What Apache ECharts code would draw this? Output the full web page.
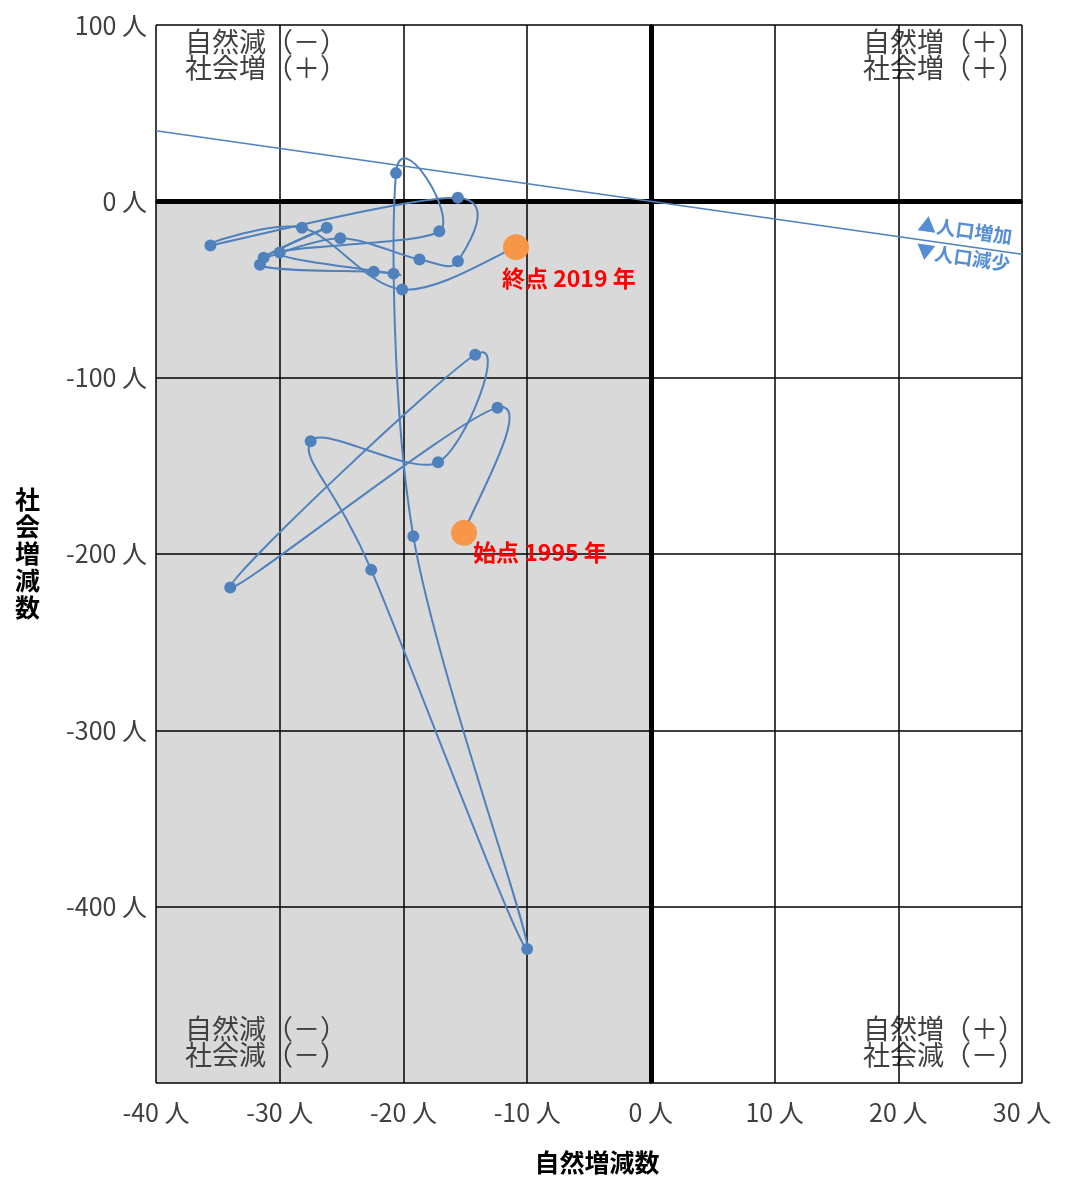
<!DOCTYPE html>
<html>
<head>
<meta charset="utf-8">
<title>自然増減数と社会増減数</title>
<script src="https://cdn.jsdelivr.net/npm/echarts@6/dist/echarts.min.js"></script>
<style>
    html, body { margin: 0; padding: 0; background: #fff; }
    #chart { width: 1068px; height: 1180px; }
</style>
</head>
<body>
<div id="chart"></div>
<script>
    // 年
    const years = [
        1995, 1996, 1997, 1998, 1999, 2000, 2001, 2002, 2003, 2004,
        2005, 2006, 2007, 2008, 2009, 2010, 2011, 2012, 2013, 2014,
        2015, 2016, 2017, 2018, 2019
    ];
    // 自然増減数 (人)
    const naturalChange = [
        -15.1, -12.4, -34.0, -14.2, -17.2, -27.5, -22.6, -10.0, -19.2, -20.6,
        -17.1, -30.0, -20.8, -22.4, -31.6, -26.2, -31.3, -25.1, -18.7, -15.6,
        -15.6, -35.6, -28.2, -20.1, -10.9
    ];
    // 社会増減数 (人)
    const socialChange = [
        -188, -117, -219, -87, -148, -136, -209, -424, -190, 16,
        -17, -29, -41, -40, -36, -15, -32, -21, -33, -34,
        2, -25, -15, -50, -26
    ];
    // 人口増減ゼロの線 (自然 + 社会 = 0)
    const balanceLine = [[-40, 40], [30, -30]];
    // 軸
    const xRange = [-40, 30];
    const yRange = [-500, 100];
    const quadrantText = [
        '自然減（－）\n社会増（＋）',
        '自然増（＋）\n社会増（＋）',
        '自然減（－）\n社会減（－）',
        '自然増（＋）\n社会減（－）'
    ];

    const FONT = '"Noto Sans CJK JP", "Noto Sans", sans-serif';
    const BLUE = '#4F81BD';

    const points = years.map((y, i) => [naturalChange[i], socialChange[i]]);
    const last = points.length - 1;

    // Excel風の平滑線 (Catmull-Rom -> ベジェ)
    function renderSegment(params, api) {
        const i = params.dataIndex;
        if (i >= last) return null;
        const p = k => api.coord(points[Math.max(0, Math.min(last, k))]);
        const p0 = p(i - 1), p1 = p(i), p2 = p(i + 1), p3 = p(i + 2);
        const t = 1 / 6;
        return {
            type: 'bezierCurve',
            shape: {
                x1: p1[0], y1: p1[1], x2: p2[0], y2: p2[1],
                cpx1: p1[0] + (p2[0] - p0[0]) * t,
                cpy1: p1[1] + (p2[1] - p0[1]) * t,
                cpx2: p2[0] - (p3[0] - p1[0]) * t,
                cpy2: p2[1] - (p3[1] - p1[1]) * t
            },
            style: { stroke: BLUE, lineWidth: 2, fill: null }
        };
    }

    // 第3象限の網掛け
    function renderShade(params, api) {
        const a = api.coord([xRange[0], 0]);
        const b = api.coord([0, yRange[0]]);
        return {
            type: 'rect',
            shape: { x: a[0], y: a[1], width: b[0] - a[0], height: b[1] - a[1] },
            style: { fill: '#D9D9D9' }
        };
    }

    const chart = echarts.init(document.getElementById('chart'));

    const option = {
        animation: false,
        grid: { left: 156, right: 46, top: 25, bottom: 94 },
        xAxis: {
            type: 'value',
            min: xRange[0], max: xRange[1], interval: 10,
            z: 3,
            name: '自然増減数',
            nameLocation: 'middle',
            nameGap: 67,
            nameTextStyle: { fontFamily: FONT, fontSize: 25, fontWeight: 'bold', color: '#000', padding: [0, 0, 0, 16] },
            axisLine: { show: true, lineStyle: { color: '#000', width: 2 } },
            axisTick: { show: false },
            splitLine: { show: true, lineStyle: { color: '#000', width: 1.5 } },
            axisLabel: {
                margin: 17,
                fontFamily: FONT, fontSize: 25, color: '#404040',
                formatter: v => v + ' 人'
            }
        },
        yAxis: {
            type: 'value',
            min: yRange[0], max: yRange[1], interval: 100,
            z: 3,
            name: '社\n会\n増\n減\n数',
            nameLocation: 'middle',
            nameRotate: 0,
            nameGap: 116,
            nameTextStyle: { fontFamily: FONT, fontSize: 25, fontWeight: 'bold', color: '#000', lineHeight: 27 },
            axisLine: { show: true, lineStyle: { color: '#000', width: 2 } },
            axisTick: { show: false },
            splitLine: { show: true, lineStyle: { color: '#000', width: 1.5 } },
            axisLabel: {
                margin: 9,
                fontFamily: FONT, fontSize: 25, color: '#404040',
                formatter: v => (v === yRange[0] ? '' : v + ' 人')
            }
        },
        series: [
            {
                type: 'custom',
                z: 1,
                silent: true,
                renderItem: renderShade,
                data: [[xRange[0], yRange[0]]]
            },
            {
                type: 'line',
                z: 6,
                silent: true,
                symbol: 'none',
                data: balanceLine,
                lineStyle: { color: BLUE, width: 1.5 },
                markLine: {
                    silent: true,
                    symbol: 'none',
                    label: { show: false },
                    lineStyle: { color: '#000', width: 5, type: 'solid' },
                    data: [{ xAxis: 0 }, { yAxis: 0 }]
                }
            },
            {
                type: 'custom',
                z: 8,
                silent: true,
                clip: false,
                renderItem: renderSegment,
                encode: { x: 0, y: 1 },
                data: points
            },
            {
                type: 'scatter',
                z: 9,
                silent: true,
                symbol: 'circle',
                symbolSize: 12,
                itemStyle: { color: BLUE, opacity: 1 },
                data: points.slice(1, last)
            },
            {
                type: 'scatter',
                z: 10,
                silent: true,
                symbol: 'circle',
                symbolSize: 26,
                itemStyle: { color: '#F79646', opacity: 1 },
                label: {
                    show: true,
                    fontFamily: FONT, fontSize: 23, fontWeight: 'bold', color: '#FF0000',
                    align: 'left', verticalAlign: 'middle'
                },
                data: [
                    { value: points[0], label: { formatter: '始点 ' + years[0] + ' 年', position: [22, 32] } },
                    { value: points[last], label: { formatter: '終点 ' + years[last] + ' 年', position: [-1, 44] } }
                ]
            }
        ]
    };

    chart.setOption(option);

    // 象限の説明と人口増減の注記
    const px = v => chart.convertToPixel({ gridIndex: 0 }, v);
    const tl = px([xRange[0], yRange[1]]);
    const br = px([xRange[1], yRange[0]]);
    const onLine = px([25.4, -25.4]);
    const qStyle = { fontFamily: FONT, fontSize: 27, lineHeight: 26, fill: '#404040' };
    const angle = -Math.atan2(
        px(balanceLine[1])[1] - px(balanceLine[0])[1],
        px(balanceLine[1])[0] - px(balanceLine[0])[0]
    );
    const noteStyle = { fontFamily: FONT, fontSize: 19, fontWeight: 'bold', fill: '#558ED5', align: 'center', verticalAlign: 'middle' };

    chart.setOption({
        graphic: [
            { type: 'text', z: 2, x: tl[0] + 29, y: tl[1] + 4, style: Object.assign({ text: quadrantText[0], align: 'left' }, qStyle) },
            { type: 'text', z: 2, x: br[0] + 3, y: tl[1] + 4, style: Object.assign({ text: quadrantText[1], align: 'right' }, qStyle) },
            { type: 'text', z: 2, x: tl[0] + 29, y: br[1] - 67, style: Object.assign({ text: quadrantText[2], align: 'left' }, qStyle) },
            { type: 'text', z: 2, x: br[0] + 3, y: br[1] - 67, style: Object.assign({ text: quadrantText[3], align: 'right' }, qStyle) },
            { type: 'text', z: 7, x: onLine[0], y: onLine[1] - 16, rotation: angle, style: Object.assign({ text: '▲人口増加' }, noteStyle) },
            { type: 'text', z: 7, x: onLine[0] - 2, y: onLine[1] + 11, rotation: angle, style: Object.assign({ text: '▼人口減少' }, noteStyle) }
        ]
    });
</script>
</body>
</html>
